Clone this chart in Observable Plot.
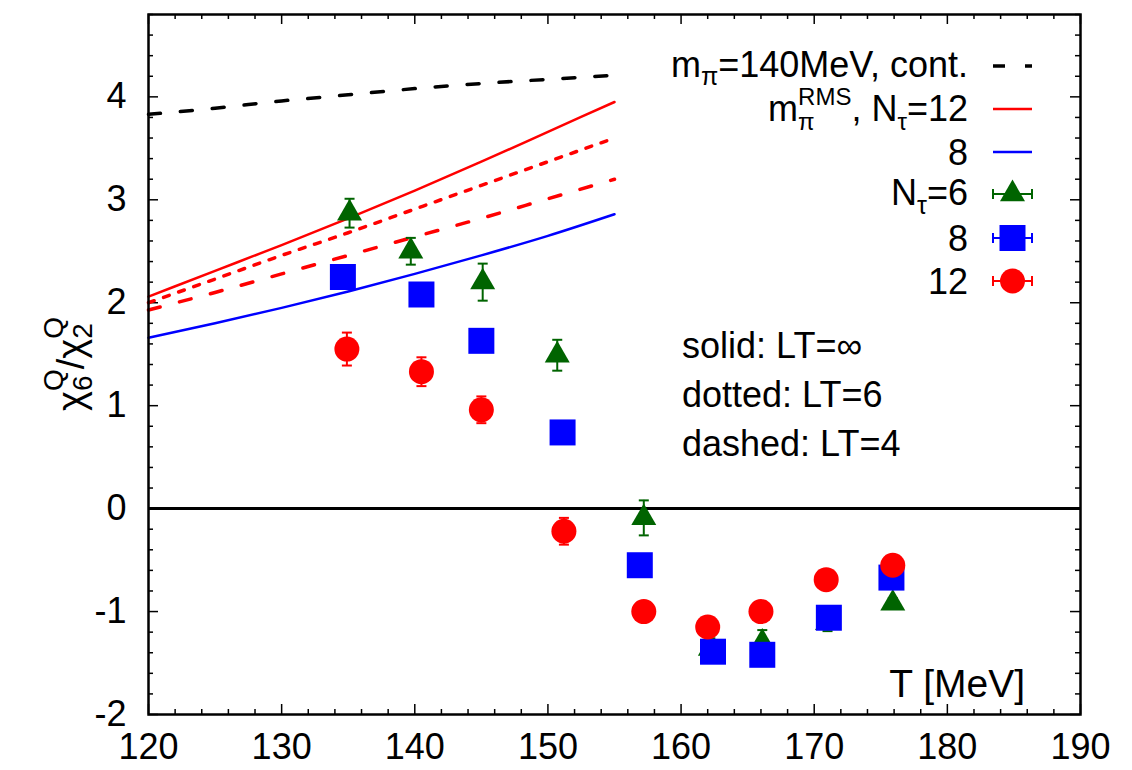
<!DOCTYPE html>
<html><head><meta charset="utf-8">
<script src="https://cdn.jsdelivr.net/npm/d3@7"></script>
<script src="https://cdn.jsdelivr.net/npm/@observablehq/plot@0.6"></script>
<style>body{margin:0;background:#fff;} svg{display:block}</style>
</head><body><div id="chart"></div>
<script>
// ---- data ----
const T_line = [120, 125, 130, 135, 140, 145, 150, 155];
const cont140 = [3.83, 3.89, 3.96, 4.02, 4.08, 4.13, 4.17, 4.21];
const rms12_inf = [2.06, 2.31, 2.56, 2.82, 3.09, 3.37, 3.66, 3.95];
const rms12_lt6 = [2.00, 2.23, 2.46, 2.68, 2.91, 3.14, 3.37, 3.60];
const rms12_lt4 = [1.93, 2.10, 2.28, 2.46, 2.64, 2.82, 3.01, 3.20];
const rms8_inf = [1.66, 1.80, 1.95, 2.11, 2.28, 2.46, 2.65, 2.86];

const T6 = [135.1, 139.7, 145.1, 150.7, 157.2, 162.2, 166.1, 171.0, 175.9];
const v6 = [2.87, 2.50, 2.20, 1.49, -0.09, -1.36, -1.30, -1.11, -0.92];
const e6 = [0.14, 0.13, 0.18, 0.15, 0.17, 0.10, 0.12, 0.08, 0.05];

const T8 = [134.6, 140.5, 145.0, 151.1, 156.9, 162.4, 166.1, 171.1, 175.8];
const v8 = [2.25, 2.08, 1.63, 0.74, -0.55, -1.39, -1.42, -1.06, -0.67];
const e8 = [0.09, 0.08, 0.07, 0.06, 0.06, 0.05, 0.05, 0.05, 0.05];

const T12 = [134.9, 140.5, 145.0, 151.2, 157.2, 162.0, 166.0, 170.9, 175.9];
const v12 = [1.55, 1.33, 0.96, -0.22, -1.00, -1.15, -1.00, -0.69, -0.55];
const e12 = [0.16, 0.14, 0.13, 0.13, 0.06, 0.05, 0.05, 0.05, 0.05];

const xTicks = [120, 130, 140, 150, 160, 170, 180, 190];
const yTicks = [-2, -1, 0, 1, 2, 3, 4];
const annotations = ["solid: LT=\u221E", "dotted: LT=6", "dashed: LT=4"];

// ---- styles ----
const FONT = "'Liberation Sans', Arial, Helvetica, sans-serif";
const GREEN = "#006400", BLUE = "#0000ff", RED = "#ff0000", BLACK = "#000000";

const lineData = vals => T_line.map((t, i) => ({T: t, v: vals[i]}));
const pts = (T, v, e) => T.map((t, i) => ({T: t, v: v[i], e: e[i]}));
const d6 = pts(T6, v6, e6), d8 = pts(T8, v8, e8), d12 = pts(T12, v12, e12);

const cap = {draw(ctx) { ctx.moveTo(-5, 0); ctx.lineTo(5, 0); }};
function errMarks(data, color) {
  return [
    Plot.ruleX(data, {x: "T", y1: d => d.v - d.e, y2: d => d.v + d.e, stroke: color, strokeWidth: 2}),
    Plot.dot(data, {x: "T", y: d => d.v - d.e, symbol: cap, stroke: color, strokeWidth: 2, fill: "none", r: 5}),
    Plot.dot(data, {x: "T", y: d => d.v + d.e, symbol: cap, stroke: color, strokeWidth: 2, fill: "none", r: 5})
  ];
}

const xMinor = d3.range(60, 96).map(i => i * 2).filter(v => v % 10 !== 0);
const yMinor = d3.range(-10, 25).map(i => i / 5).filter(v => Math.abs(v - Math.round(v)) > 1e-6);

const SQ = 26, TRI_W = 25, CIRC_D = 25;
const rSquare = SQ / Math.sqrt(Math.PI);
const triY = TRI_W / (2 * Math.sqrt(3));
const rTri = Math.sqrt(triY * triY * 3 * Math.sqrt(3) / Math.PI);
const rCirc = CIRC_D / 2;

const W = 1132, H = 770, ML = 148, MR = 52, MT = 14, MB = 56;
const PW = W - ML - MR, PH = H - MT - MB;
const svg = Plot.plot({
  width: W, height: H,
  marginLeft: ML, marginRight: MR, marginTop: MT, marginBottom: MB,
  style: {fontFamily: FONT, fontSize: "36px", background: "#fff", color: "#000"},
  x: {domain: [120, 190], label: null},
  y: {domain: [-2, 4.8], label: null},
  marks: [
    // inward ticks on all four sides
    Plot.tickX(xMinor, {x: d => d, insetTop: PH - 5, strokeWidth: 1.5}),
    Plot.tickX(xTicks, {x: d => d, insetTop: PH - 10, strokeWidth: 1.5}),
    Plot.tickX(xMinor, {x: d => d, insetBottom: PH - 5, strokeWidth: 1.5}),
    Plot.tickX(xTicks, {x: d => d, insetBottom: PH - 10, strokeWidth: 1.5}),
    Plot.tickY(yMinor, {y: d => d, insetRight: PW - 5, strokeWidth: 1.5}),
    Plot.tickY(yTicks, {y: d => d, insetRight: PW - 10, strokeWidth: 1.5}),
    Plot.tickY(yMinor, {y: d => d, insetLeft: PW - 5, strokeWidth: 1.5}),
    Plot.tickY(yTicks, {y: d => d, insetLeft: PW - 10, strokeWidth: 1.5}),
    Plot.axisX(xTicks, {anchor: "bottom", tickSize: 0, tickPadding: 19, tickFormat: d => String(d)}),
    Plot.axisY(yTicks, {anchor: "left", tickSize: 0, tickPadding: 22, tickFormat: d => String(d)}),
    Plot.ruleY([0], {strokeWidth: 3, stroke: BLACK}),
    Plot.line(lineData(cont140), {x: "T", y: "v", stroke: BLACK, strokeWidth: 3.5, strokeDasharray: "12,20", curve: "monotone-x"}),
    Plot.line(lineData(rms12_inf), {x: "T", y: "v", stroke: RED, strokeWidth: 2.5, curve: "monotone-x"}),
    Plot.line(lineData(rms12_lt6), {x: "T", y: "v", stroke: RED, strokeWidth: 3.5, strokeDasharray: "6,10", curve: "monotone-x"}),
    Plot.line(lineData(rms12_lt4), {x: "T", y: "v", stroke: RED, strokeWidth: 3.5, strokeDasharray: "12,20", curve: "monotone-x"}),
    Plot.line(lineData(rms8_inf), {x: "T", y: "v", stroke: BLUE, strokeWidth: 2.5, curve: "monotone-x"}),
    ...errMarks(d6, GREEN),
    Plot.dot(d6, {x: "T", y: "v", symbol: "triangle", r: rTri, fill: GREEN}),
    ...errMarks(d8, BLUE),
    Plot.dot(d8, {x: "T", y: "v", symbol: "square", r: rSquare, fill: BLUE}),
    ...errMarks(d12, RED),
    Plot.dot(d12, {x: "T", y: "v", symbol: "circle", r: rCirc, fill: RED}),
    Plot.frame({strokeWidth: 2.5, stroke: BLACK})
  ]
});
document.getElementById("chart").appendChild(svg);

// ---- rich text helper (sub/superscripts) ----
function rich(g, x, y, parts, anchor, base, small) {
  const tmp = g.append("text").attr("font-family", FONT).attr("text-anchor", "start");
  const items = parts.map(p => {
    const size = (p.sub || p.sup) ? small : base;
    const node = tmp.append("tspan").attr("font-size", size).text(p.t).node();
    return {...p, size, w: node.getComputedTextLength()};
  });
  tmp.remove();
  let cx = 0, prevX = 0, prevW = 0;
  items.forEach(it => {
    if (it.stack) { it.x = prevX; cx = prevX + Math.max(prevW, it.w); }
    else { it.x = cx; prevX = cx; prevW = it.w; cx += it.w; }
  });
  const x0 = anchor === "end" ? x - cx : anchor === "middle" ? x - cx / 2 : x;
  items.forEach(it => {
    g.append("text")
      .attr("x", x0 + it.x)
      .attr("y", y + (it.sub ? it.sub : it.sup ? it.sup : 0))
      .attr("text-anchor", "start")
      .attr("font-size", it.size).attr("font-family", FONT).attr("fill", "#000")
      .text(it.t);
  });
}

const S = d3.select(svg);
const G = S.append("g").attr("text-anchor", "start");

// legend
const rowsY = [66, 109, 152, 194, 238, 281];
const TX = 968, L0 = 993, L1 = 1032, LC = (L0 + L1) / 2;
rich(G, TX, rowsY[0] + 11, [{t: "m"}, {t: "\u03C0", sub: 8}, {t: "=140MeV, cont."}], "end", 36, 25);
rich(G, TX, rowsY[1] + 12, [{t: "m"}, {t: "\u03C0", sub: 9}, {t: "RMS", sup: -16, stack: true}, {t: ", N"}, {t: "\u03C4", sub: 9}, {t: "=12"}], "end", 36, 24);
rich(G, TX, rowsY[2] + 13, [{t: "8"}], "end", 36, 25);
rich(G, TX, rowsY[3] + 11, [{t: "N"}, {t: "\u03C4", sub: 9}, {t: "=6"}], "end", 36, 25);
rich(G, TX, rowsY[4] + 13, [{t: "8"}], "end", 36, 25);
rich(G, TX, rowsY[5] + 13, [{t: "12"}], "end", 36, 25);

G.append("line").attr("x1", L0).attr("x2", L1).attr("y1", rowsY[0]).attr("y2", rowsY[0])
  .attr("stroke", BLACK).attr("stroke-width", 3.5).attr("stroke-dasharray", "12,20");
G.append("line").attr("x1", L0).attr("x2", L1).attr("y1", rowsY[1]).attr("y2", rowsY[1])
  .attr("stroke", RED).attr("stroke-width", 2.5);
G.append("line").attr("x1", L0).attr("x2", L1).attr("y1", rowsY[2]).attr("y2", rowsY[2])
  .attr("stroke", BLUE).attr("stroke-width", 2.5);
[[rowsY[3], GREEN, d3.symbolTriangle, rTri], [rowsY[4], BLUE, d3.symbolSquare, rSquare], [rowsY[5], RED, d3.symbolCircle, rCirc]]
  .forEach(([yy, c, sym, r]) => {
    G.append("line").attr("x1", L0).attr("x2", L1).attr("y1", yy).attr("y2", yy).attr("stroke", c).attr("stroke-width", 2);
    [L0, L1].forEach(xx => G.append("line").attr("x1", xx).attr("x2", xx).attr("y1", yy - 5).attr("y2", yy + 5).attr("stroke", c).attr("stroke-width", 2));
    G.append("path").attr("transform", `translate(${LC},${yy})`).attr("fill", c)
      .attr("d", d3.symbol(sym, r * r * Math.PI)());
  });

// annotations
annotations.forEach((t, i) => {
  G.append("text").attr("x", 682).attr("y", 358 + i * 49).attr("font-size", 36)
    .attr("text-anchor", "start")
    .attr("font-family", FONT).attr("fill", "#000").text(t);
});

// x label inside plot
G.append("text").attr("x", 1025).attr("y", 697).attr("text-anchor", "end")
  .attr("font-size", 39).attr("font-family", FONT).attr("fill", "#000").text("T [MeV]");

// y label (rotated)
const GY = G.append("g").attr("transform", "translate(84,364) rotate(-90)");
rich(GY, 0, 0, [{t: "\u03C7"}, {t: "6", sub: 8}, {t: "Q", sup: -21, stack: true}, {t: "/"},
                {t: "\u03C7"}, {t: "2", sub: 8}, {t: "Q", sup: -21, stack: true}], "middle", 38, 28);
</script></body></html>
